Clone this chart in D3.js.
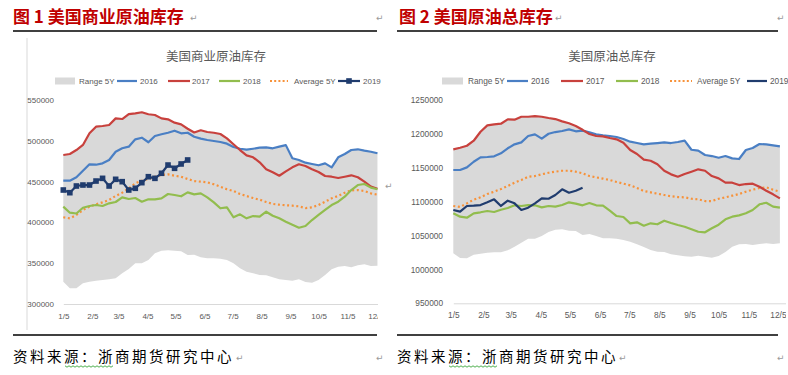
<!DOCTYPE html>
<html>
<head>
<meta charset="utf-8">
<script src="https://cdn.jsdelivr.net/npm/d3@7"></script>
<style>
  body { margin: 0; background: #fff; }
  svg text { font-family: 'Liberation Sans Narrow', 'Arial Narrow', 'Liberation Sans', sans-serif; }
  .cjk { font-family: 'Noto Sans CJK SC', sans-serif !important; }
</style>
</head>
<body>
<svg id="page" width="788" height="375"></svg>
<script>
// weekly categories (m/d) and month ticks
const weekLabels = ['1/5','1/12','1/19','1/26','2/2','2/9','2/16','2/23','3/2','3/9','3/16','3/23','3/30',
  '4/6','4/13','4/20','4/27','5/4','5/11','5/18','5/25','6/1','6/8','6/15','6/22','6/29','7/6','7/13',
  '7/20','7/27','8/3','8/10','8/17','8/24','8/31','9/7','9/14','9/21','9/28','10/5','10/12','10/19',
  '10/26','11/2','11/9','11/16','11/23','11/30','12/7'];
const monthTicks = ['1/5','2/5','3/5','4/5','5/5','6/5','7/5','8/5','9/5','10/5','11/5','12/5'];

// chart 1: commercial crude stocks
const comm2016 = [451100,451100,455300,463400,471200,470700,472400,476500,486600,490800,492800,501800,503800,498200,505900,508000,509900,512400,509200,509900,505000,502600,501000,499800,498500,496500,492400,490300,489100,490300,491600,492000,490800,492800,494700,478600,476500,473200,471600,470000,472400,467500,479800,483800,488700,489600,487900,486600,484700];
const comm2017 = [482600,483800,488700,494900,509200,517300,518100,519400,527500,526700,532800,533700,535000,532500,531600,527500,526300,522200,520100,514800,510200,512900,510800,509900,508300,503000,495700,488700,482200,479800,473600,465100,461400,457200,462600,467500,471200,469100,465100,461800,456900,456000,454400,456000,457700,455300,449900,443800,441300];
const comm2018 = [419300,411900,410900,418000,420100,421300,420100,423400,425000,430700,428700,429900,425400,428300,428300,429500,434800,433600,432000,436800,434400,435600,430700,424600,417300,418500,406300,409900,405000,407800,407000,413100,408200,405000,400900,397200,393500,395600,402900,409100,415200,421300,425400,431500,439700,445800,447100,442600,440600];
const comm2019 = [439700,436400,444600,445800,445800,450700,454000,444600,452800,449900,439700,441800,448700,456000,454000,460200,470300,466300,471600,476500];
const commAvg = [406300,405000,409100,415200,419300,422200,424600,427500,432400,436400,441800,447900,451100,453200,456000,458100,458900,457200,456000,453200,450700,449900,449100,446700,443800,440600,438500,434800,432400,429900,427800,425000,422600,421700,421000,420500,419700,417600,418500,421300,425400,429500,432400,436400,439300,439700,438500,435600,434000];
const commLow = [327300,319200,319200,325400,327300,328600,329400,330300,331500,337600,342900,349900,349900,353900,362100,365300,365800,365300,364600,360000,360400,357200,356000,356000,355500,353900,349900,343700,339600,337600,335500,335200,332700,330300,329400,328600,330300,327000,326100,329400,335500,342500,345700,346600,345000,347400,348700,346600,346900];
const commHigh = [482600,483800,488700,494900,509200,517300,518100,519400,527500,526700,532800,533700,535000,532500,531600,527500,526300,522200,520100,514800,510200,512900,510800,509900,508300,503000,495700,490300,489100,490300,491600,492000,490800,492800,494700,478600,476500,473200,471600,470000,472400,467500,479800,483800,488700,489600,487900,486600,484700];
const commTicks = [300000,350000,400000,450000,500000,550000];

// chart 2: total crude stocks
const tot2016 = [1146700,1146700,1150600,1158900,1165400,1165900,1166900,1171300,1178700,1184600,1187500,1196900,1199300,1192900,1200200,1202700,1204200,1206700,1203800,1204800,1202300,1199300,1197900,1196900,1195400,1192400,1188500,1186500,1184600,1185500,1186500,1187500,1186500,1188000,1190000,1176600,1175200,1168800,1167300,1164800,1167300,1163900,1162900,1176200,1179100,1185000,1184600,1183100,1181600];
const tot2017 = [1177200,1179600,1182500,1189900,1203200,1212600,1214100,1215000,1221500,1220900,1225300,1225300,1226300,1225300,1223400,1221900,1218500,1215600,1211600,1206000,1199800,1196900,1196400,1193900,1192000,1187000,1176200,1170300,1161900,1160400,1155100,1145600,1140300,1136800,1140800,1144200,1147700,1145600,1137800,1134400,1128000,1128000,1124500,1126000,1126500,1122000,1116100,1110800,1104900];
const tot2018 = [1082800,1077800,1076300,1082800,1084300,1086200,1084700,1088100,1090600,1094600,1093600,1095000,1094600,1091600,1093600,1092600,1095000,1099000,1097000,1094600,1098000,1094600,1094000,1086600,1078800,1077300,1068000,1069500,1064500,1068000,1066600,1071900,1068500,1065500,1063000,1059200,1055600,1054800,1060700,1066000,1073900,1077800,1079800,1082800,1087700,1096100,1098400,1092600,1091100];
const tot2019 = [1087700,1085200,1093600,1094000,1095000,1099000,1103400,1093600,1101400,1097500,1087700,1091100,1097500,1104900,1104300,1109800,1118200,1113200,1116100,1120600];
const totAvg = [1093600,1092100,1097500,1102900,1106400,1111300,1114700,1118600,1123100,1128000,1131900,1136800,1137800,1140300,1142700,1144200,1145600,1145600,1144200,1141800,1137800,1135900,1133900,1131900,1129000,1126500,1124100,1120100,1115700,1113800,1111700,1109800,1107900,1106800,1106400,1104300,1103400,1100900,1100900,1104300,1106400,1108800,1111300,1114700,1117600,1120100,1121100,1117600,1114700];
const totLow = [1023800,1016800,1016400,1021700,1023200,1024700,1025200,1025200,1028200,1033500,1039400,1045300,1045300,1049300,1055200,1058600,1059200,1057100,1056700,1050800,1052200,1049300,1045900,1045900,1045300,1043400,1040900,1037000,1033100,1028600,1026100,1025700,1022300,1020800,1019300,1018800,1020200,1018800,1017300,1019800,1025700,1033500,1037000,1037500,1036000,1037500,1038500,1037500,1038500];
const totHigh = [1177200,1179600,1182500,1189900,1203200,1212600,1214100,1215000,1221500,1220900,1225300,1225300,1226300,1225300,1223400,1221900,1218500,1215600,1211600,1206000,1202300,1199300,1197900,1196900,1195400,1192400,1188500,1186500,1184600,1185500,1186500,1187500,1186500,1188000,1190000,1176600,1175200,1168800,1167300,1164800,1167300,1163900,1162900,1176200,1179100,1185000,1184600,1183100,1181600];
const totTicks = [950000,1000000,1050000,1100000,1150000,1200000,1250000];

const legendNames = ['Range 5Y', '2016', '2017', '2018', 'Average 5Y', '2019'];

const C = {
    range: '#d9d9d9',
    blue: '#4a7fc4',
    red: '#c8413d',
    green: '#92bd4e',
    orange: '#f7923a',
    navy: '#203c6e',
    text: '#595959'
};

const parseDay = d3.timeParse('%m/%d');
const weekDates = weekLabels.map(parseDay);
const monthDates = monthTicks.map(parseDay);

const svg = d3.select('#page');
const defs = svg.append('defs');

function drawPanel(p) {
    defs.append('clipPath').attr('id', 'clip' + p.id)
        .append('rect').attr('x', 0).attr('y', 0).attr('width', p.clipX).attr('height', 375);

    const g = svg.append('g').attr('clip-path', `url(#clip${p.id})`);

    const x = d3.scaleTime()
        .domain([parseDay('1/5'), parseDay('12/31')])
        .range([p.x0, p.x0 + 360 * p.pxPerDay]);
    const y = d3.scaleLinear().domain(p.yDomain).range(p.yRange);

    // Range 5Y band
    g.append('path')
        .datum(p.low)
        .attr('d', d3.area()
            .x((d, i) => x(weekDates[i]))
            .y0(d => y(d))
            .y1((d, i) => y(p.high[i])))
        .attr('fill', C.range);

    // x axis
    const xa = g.append('g')
        .attr('transform', `translate(0,${p.yRange[0]})`)
        .call(d3.axisBottom(x).tickValues(monthDates)
            .tickFormat((d, i) => monthTicks[i]).tickSize(0).tickPadding(p.xPad));
    xa.select('.domain').attr('stroke', '#d9d9d9').attr('stroke-width', 1);
    xa.selectAll('text').attr('fill', C.text).style('font-size', p.fs + 'px');

    // y axis
    const ya = svg.append('g')
        .attr('transform', `translate(${p.labelRight},0)`)
        .call(d3.axisLeft(y).tickValues(p.yTicks).tickFormat(d3.format('d')).tickSize(0).tickPadding(0));
    ya.select('.domain').remove();
    ya.selectAll('text').attr('fill', C.text).style('font-size', p.fs + 'px');

    const line = d3.line().x((d, i) => x(weekDates[i])).y(d => y(d));

    const series = [
        { v: p.avg, c: C.orange, dash: '2,2.6' },
        { v: p.s16, c: C.blue },
        { v: p.s17, c: C.red },
        { v: p.s18, c: C.green },
        { v: p.s19, c: C.navy }
    ];
    series.forEach(s => {
        g.append('path')
            .datum(s.v)
            .attr('d', line)
            .attr('fill', 'none')
            .attr('stroke', s.c)
            .attr('stroke-width', 2.2)
            .attr('stroke-linejoin', 'round')
            .attr('stroke-dasharray', s.dash || null);
    });

    if (p.markers) {
        g.selectAll('.mk' + p.id)
            .data(p.s19)
            .enter()
            .append('rect')
            .attr('x', (d, i) => x(weekDates[i]) - 2.8)
            .attr('y', d => y(d) - 2.8)
            .attr('width', 5.6)
            .attr('height', 5.6)
            .attr('fill', C.navy);
    }

    // chart title
    svg.append('text')
        .attr('class', 'cjk')
        .attr('x', p.titleX)
        .attr('y', 61)
        .attr('text-anchor', 'middle')
        .attr('fill', C.text)
        .style('font-size', '12.5px')
        .text(p.title);

    // legend
    const ly = 81;
    const lg = svg.append('g');
    legendNames.forEach((name, i) => {
        const [x1, x2, tx] = p.legend[i];
        if (i === 0) {
            lg.append('rect').attr('x', x1).attr('y', ly - 3.5).attr('width', x2 - x1).attr('height', 7).attr('fill', C.range);
        } else {
            const col = [null, C.blue, C.red, C.green, C.orange, C.navy][i];
            lg.append('line')
                .attr('x1', x1).attr('x2', x2).attr('y1', ly).attr('y2', ly)
                .attr('stroke', col).attr('stroke-width', 2.2)
                .attr('stroke-dasharray', i === 4 ? '2,2.2' : null);
            if (i === 5 && p.markers) {
                lg.append('rect').attr('x', (x1 + x2) / 2 - 2.8).attr('y', ly - 2.8)
                    .attr('width', 5.6).attr('height', 5.6).attr('fill', C.navy);
            }
        }
        lg.append('text')
            .attr('x', tx).attr('y', ly + 3)
            .attr('fill', C.text)
            .style('font-size', p.fs + 'px')
            .text(name);
    });
}

// page furniture
function pageText(x, y, txt, size, color, weight) {
    svg.append('text').attr('class', 'cjk')
        .attr('x', x).attr('y', y)
        .attr('fill', color)
        .style('font-size', size + 'px')
        .style('font-weight', weight || 'normal')
        .text(txt);
}
function mark(x, y) {
    svg.append('text').attr('x', x).attr('y', y)
        .attr('fill', '#9a9a9a')
        .style('font-family', 'DejaVu Sans')
        .style('font-size', '9px')
        .text('↵');
}

pageText(13, 23, '图 1 美国商业原油库存', 17, '#c00000', 'bold');
pageText(399, 23, '图 2 美国原油总库存', 17, '#c00000', 'bold');
mark(190, 21); mark(376, 21); mark(555, 21); mark(777, 21); mark(385, 189);

[[13, 377], [397, 778]].forEach(([a, b]) => {
    svg.append('line').attr('x1', a).attr('x2', b).attr('y1', 31).attr('y2', 31).attr('stroke', '#000').attr('stroke-width', 1.3);
    svg.append('line').attr('x1', a).attr('x2', b).attr('y1', 335).attr('y2', 335).attr('stroke', '#000').attr('stroke-width', 1.3);
});

// left chart frame edge
svg.append('line').attr('x1', 27).attr('x2', 27).attr('y1', 38).attr('y2', 330).attr('stroke', '#d9d9d9');

[[13, 65], [397, 449]].forEach(([tx, wx]) => {
    svg.append('text').attr('class', 'cjk')
        .attr('x', tx).attr('y', 362)
        .attr('fill', '#000')
        .style('font-size', '14.5px')
        .style('letter-spacing', '2.5px')
        .text('资料来源：浙商期货研究中心');
    const zz = d3.range(0, 25).map(k => [wx + k * 2, 366 + (k % 2 ? 1.2 : -0.2)]);
    svg.append('path').attr('d', d3.line()(zz)).attr('fill', 'none').attr('stroke', '#3aa63a').attr('stroke-width', 0.9);
});
mark(236, 361); mark(376, 361); mark(619, 361); mark(777, 361);

drawPanel({
    id: 1,
    x0: 63.3, pxPerDay: 0.935, clipX: 378,
    yDomain: [300000, 550000], yRange: [304, 100], yTicks: commTicks,
    labelRight: 54, fs: 8, xPad: 9,
    title: '美国商业原油库存', titleX: 216,
    low: commLow, high: commHigh, s16: comm2016, s17: comm2017, s18: comm2018, s19: comm2019, avg: commAvg,
    markers: true,
    legend: [[55, 75, 79], [117, 137, 140], [168, 190, 192], [219, 240, 243], [270, 288, 294], [338, 360, 363]]
});

drawPanel({
    id: 2,
    x0: 453.3, pxPerDay: 0.972, clipX: 786,
    yDomain: [950000, 1250000], yRange: [303.3, 100], yTicks: totTicks,
    labelRight: 443, fs: 8.3, xPad: 9,
    title: '美国原油总库存', titleX: 612,
    low: totLow, high: totHigh, s16: tot2016, s17: tot2017, s18: tot2018, s19: tot2019, avg: totAvg,
    markers: false,
    legend: [[442, 463, 468], [507, 528, 531], [561, 583, 586], [616, 638, 641], [670, 692, 697], [747, 767, 770]]
});
</script>
</body>
</html>
